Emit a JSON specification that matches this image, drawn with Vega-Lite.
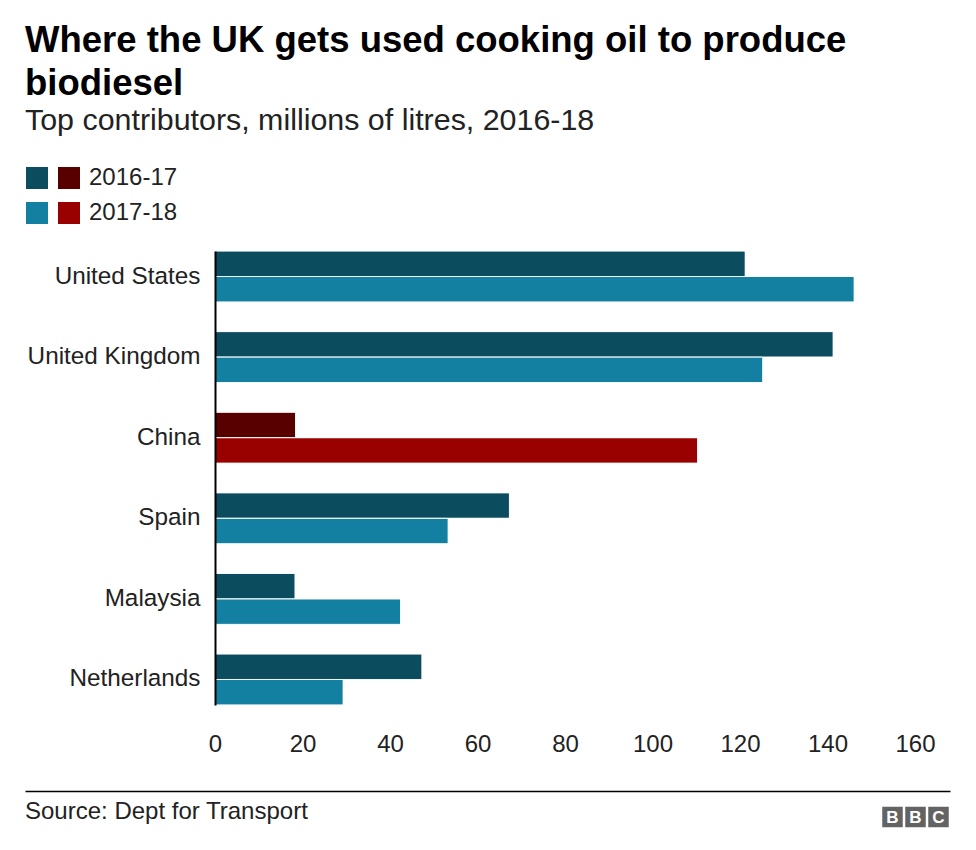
{
  "$schema": "https://vega.github.io/schema/vega-lite/v6.json",
  "background": "white",
  "padding": {"left": 25, "top": 23, "right": 20, "bottom": 4},
  "config": {
    "font": "Liberation Sans",
    "view": {"stroke": null},
    "axis": {"grid": false, "ticks": false}
  },
  "title": {
    "text": ["Where the UK gets used cooking oil to produce", "biodiesel"],
    "subtitle": "Top contributors, millions of litres, 2016-18",
    "anchor": "start",
    "frame": "bounds",
    "font": "Liberation Sans",
    "fontSize": 36.5,
    "fontWeight": "bold",
    "color": "#000000",
    "lineHeight": 43,
    "subtitleFont": "Liberation Sans",
    "subtitleFontSize": 30.4,
    "subtitleColor": "#222222",
    "subtitlePadding": 3,
    "offset": 30
  },
  "spacing": 35,
  "vconcat": [
    {
      "width": 700,
      "height": 454,
      "data": {
        "values": [
          {"country": "United States", "period": "2016-17", "key": "a", "value": 121.2},
          {"country": "United States", "period": "2017-18", "key": "c", "value": 146.1},
          {"country": "United Kingdom", "period": "2016-17", "key": "a", "value": 141.3},
          {"country": "United Kingdom", "period": "2017-18", "key": "c", "value": 125.2},
          {"country": "China", "period": "2016-17", "key": "b", "value": 18.4},
          {"country": "China", "period": "2017-18", "key": "d", "value": 110.3},
          {"country": "Spain", "period": "2016-17", "key": "a", "value": 67.3},
          {"country": "Spain", "period": "2017-18", "key": "c", "value": 53.3},
          {"country": "Malaysia", "period": "2016-17", "key": "a", "value": 18.3},
          {"country": "Malaysia", "period": "2017-18", "key": "c", "value": 42.4},
          {"country": "Netherlands", "period": "2016-17", "key": "a", "value": 47.3},
          {"country": "Netherlands", "period": "2017-18", "key": "c", "value": 29.3}
        ]
      },
      "mark": {"type": "bar", "stroke": "white", "strokeWidth": 1, "strokeOpacity": 0.7, "cornerRadius": 1},
      "encoding": {
        "y": {
          "field": "country",
          "type": "nominal",
          "sort": ["United States", "United Kingdom", "China", "Spain", "Malaysia", "Netherlands"],
          "scale": {"paddingInner": 0.367, "paddingOuter": 0},
          "axis": {
            "title": null,
            "labelFontSize": 24.3,
            "labelColor": "#222222",
            "labelPadding": 15,
            "domainColor": "#000000",
            "domainWidth": 2,
            "zindex": 1
          }
        },
        "yOffset": {
          "field": "period",
          "type": "nominal",
          "sort": ["2016-17", "2017-18"],
          "scale": {"paddingInner": 0, "paddingOuter": 0}
        },
        "x": {
          "field": "value",
          "type": "quantitative",
          "scale": {"domain": [0, 160], "nice": false},
          "axis": {
            "title": null,
            "values": [0, 20, 40, 60, 80, 100, 120, 140, 160],
            "labelFontSize": 24,
            "labelColor": "#222222",
            "labelPadding": 27,
            "labelFlush": false,
            "domain": false,
            "grid": false
          }
        },
        "color": {
          "field": "key",
          "type": "nominal",
          "scale": {"domain": ["a", "c", "b", "d"], "range": ["#0c4c5f", "#1380a1", "#580000", "#990000"]},
          "legend": {
            "title": null,
            "orient": "none",
            "legendX": -190,
            "legendY": -85,
            "columns": 2,
            "padding": 0,
            "symbolType": "square",
            "symbolSize": 484,
            "symbolStrokeWidth": 0,
            "symbolOpacity": 1,
            "labelFontSize": 24,
            "labelColor": "#222222",
            "labelOffset": 8,
            "columnPadding": 0,
            "rowPadding": 11,
            "labelExpr": "datum.value == 'b' ? '2016-17' : datum.value == 'd' ? '2017-18' : ''"
          }
        }
      }
    },
    {
      "width": 735,
      "height": 52,
      "resolve": {"scale": {"x": "independent"}, "axis": {"x": "independent"}},
      "layer": [
        {
          "data": {"values": [{"source": "Source: Dept for Transport"}]},
          "mark": {"type": "text", "align": "left", "baseline": "middle", "fontSize": 24, "color": "#222222", "dy": -5},
          "encoding": {
            "text": {"field": "source"},
            "x": {
              "datum": 0,
              "type": "quantitative",
              "scale": {"domain": [0, 1], "range": [-190, 735]},
              "axis": {"orient": "top", "labels": false, "ticks": false, "grid": false, "title": null, "domainColor": "#000000", "domainWidth": 1.5}
            }
          }
        },
        {
          "data": {
            "values": [
              {"k": "1", "letter": "B"},
              {"k": "2", "letter": "B"},
              {"k": "3", "letter": "C"}
            ]
          },
          "encoding": {
            "x": {
              "field": "k",
              "type": "ordinal",
              "scale": {"type": "point", "range": [666, 735], "padding": 0.5},
              "axis": null
            }
          },
          "layer": [
            {"mark": {"type": "point", "shape": "square", "filled": true, "size": 420, "color": "#636363", "opacity": 1}},
            {
              "mark": {"type": "text", "fontSize": 17, "fontWeight": "bold", "color": "white", "baseline": "middle", "dy": 1},
              "encoding": {"text": {"field": "letter"}}
            }
          ]
        }
      ]
    }
  ]
}
